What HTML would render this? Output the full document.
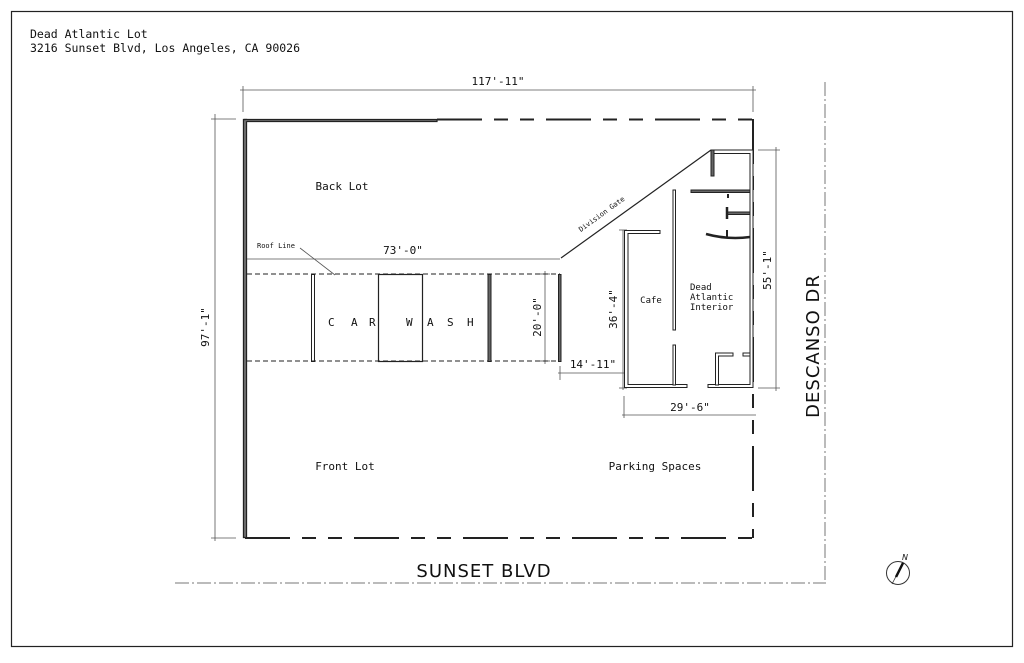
<!DOCTYPE html>
<html><head><meta charset="utf-8"><style>
html,body{margin:0;padding:0;background:#fff;}
svg{display:block;}
.m{font-family:"DejaVu Sans Mono","Liberation Mono",monospace;fill:#111;}
.s{font-family:"DejaVu Sans","Liberation Sans",sans-serif;fill:#111;}
</style></head><body>
<svg width="1024" height="663" viewBox="0 0 1024 663" xmlns="http://www.w3.org/2000/svg">
<rect x="11.5" y="11.5" width="1001" height="635" fill="#fff" stroke="#222" stroke-width="1.2"/>
<text class="m" x="30" y="38" font-size="11.5">Dead Atlantic Lot</text>
<text class="m" x="30" y="52" font-size="11.5">3216 Sunset Blvd, Los Angeles, CA 90026</text>

<!-- dims -->
<g stroke="#555" stroke-width="0.8" fill="none">
<line x1="240" y1="90" x2="756" y2="90"/>
<line x1="243" y1="86" x2="243" y2="112"/>
<line x1="753" y1="86" x2="753" y2="112"/>
<line x1="215" y1="114" x2="215" y2="541"/>
<line x1="211" y1="119" x2="236" y2="119"/>
<line x1="211" y1="538" x2="236" y2="538"/>
<line x1="243" y1="259" x2="560" y2="259"/>
<line x1="545" y1="271" x2="545" y2="364"/>
<line x1="540" y1="274" x2="550" y2="274"/>
<line x1="540" y1="361" x2="550" y2="361"/>
<line x1="558" y1="373" x2="627" y2="373"/>
<line x1="560" y1="366" x2="560" y2="380"/>
<line x1="623" y1="230" x2="623" y2="390"/>
<line x1="619" y1="230" x2="627" y2="230"/>
<line x1="619" y1="388" x2="627" y2="388"/>
<line x1="622" y1="415" x2="756" y2="415"/>
<line x1="624" y1="396" x2="624" y2="418"/>
<line x1="776" y1="147" x2="776" y2="391"/>
<line x1="758" y1="150" x2="780" y2="150"/>
<line x1="758" y1="388" x2="780" y2="388"/>
<line x1="300" y1="248" x2="335" y2="275"/>
</g>
<text class="m" x="498" y="85" font-size="11" text-anchor="middle">117'-11"</text>
<text class="m" x="0" y="0" font-size="11" text-anchor="middle" transform="translate(209,327) rotate(-90)">97'-1"</text>
<text class="m" x="403" y="254" font-size="11" text-anchor="middle">73'-0"</text>
<text class="m" x="0" y="0" font-size="11" text-anchor="middle" transform="translate(541,317) rotate(-90)">20'-0"</text>
<text class="m" x="593" y="368" font-size="11" text-anchor="middle">14'-11"</text>
<text class="m" x="0" y="0" font-size="11" text-anchor="middle" transform="translate(617,309) rotate(-90)">36'-4"</text>
<text class="m" x="690" y="411" font-size="11" text-anchor="middle">29'-6"</text>
<text class="m" x="0" y="0" font-size="11" text-anchor="middle" transform="translate(771,270) rotate(-90)">55'-1"</text>
<text class="m" x="257" y="248" font-size="7">Roof Line</text>

<!-- lot outline -->
<g fill="none" stroke="#222">
<rect x="243.5" y="119.5" width="3" height="418" stroke-width="1.3" fill="#777"/>
<path d="M244 119.5 L437 119.5 L437 121.5 L247 121.5" stroke-width="1.2" fill="#777"/>
<line x1="437" y1="119.5" x2="753" y2="119.5" stroke-width="2" stroke-dasharray="45 12 14 12 14 12"/>
<line x1="753" y1="119" x2="753" y2="538" stroke-width="2" stroke-dasharray="45 12 14 12 14 12"/>
<line x1="245" y1="538" x2="753" y2="538" stroke-width="2" stroke-dasharray="45 12 14 12 14 12"/>
<line x1="175" y1="583" x2="826" y2="583" stroke="#777" stroke-width="1" stroke-dasharray="14 3 2 3"/>
<line x1="825" y1="82" x2="825" y2="583" stroke="#777" stroke-width="1" stroke-dasharray="14 3 2 3"/>
<line x1="247" y1="274" x2="560" y2="274" stroke-width="0.9" stroke-dasharray="5 3"/>
<line x1="247" y1="361" x2="560" y2="361" stroke-width="0.9" stroke-dasharray="5 3"/>
<rect x="311.5" y="274.5" width="3" height="87" stroke-width="1"/>
<rect x="378.5" y="274.5" width="44" height="87" stroke-width="1.2"/>
<rect x="488" y="274.5" width="3" height="87" stroke-width="1" fill="#666"/>
<rect x="558.5" y="274.5" width="2.5" height="87" stroke-width="1" fill="#666"/>
<line x1="561" y1="258" x2="711" y2="150" stroke-width="1.2"/>
<!-- building walls -->
<path d="M660 230.5 L624.5 230.5 L624.5 387.5 L687 387.5 L687 384.5 L628 384.5 L628 233.5 L660 233.5 Z" stroke-width="1" fill="#fff"/>
<path d="M708 384.5 L750 384.5 L750 153.5 L711 153.5 L711 150 L753 150 L753 387.5 L708 387.5 Z" stroke-width="1" fill="#fff"/>
<rect x="711" y="150" width="3" height="26" stroke-width="1" fill="#666"/>
<rect x="673" y="190" width="2.5" height="140" stroke-width="1" fill="#fff"/>
<rect x="673" y="345" width="2.5" height="40" stroke-width="1" fill="#fff"/>
<rect x="691" y="190" width="59" height="2.5" stroke-width="1" fill="#666"/>
<rect x="727" y="212" width="23" height="2.5" stroke-width="1" fill="#666"/>
<line x1="727" y1="207" x2="727" y2="219" stroke-width="2.5"/>
<line x1="728" y1="194" x2="728" y2="198" stroke-width="2"/>
<line x1="727" y1="230" x2="727" y2="238" stroke-width="2"/>
<path d="M706 234 Q728 240 750 237" stroke-width="2.5"/>
<path d="M733 353 L715.5 353 L715.5 385 L718.5 385 L718.5 356 L733 356 Z" stroke-width="1" fill="#fff"/>
<rect x="743" y="353" width="7" height="3" stroke-width="1" fill="#fff"/>
</g>
<text class="m" x="0" y="0" font-size="7" text-anchor="middle" transform="translate(603,216) rotate(-36)">Division Gate</text>

<!-- labels -->
<text class="m" x="342" y="190" font-size="11" text-anchor="middle">Back Lot</text>
<text class="m" x="345" y="470" font-size="11" text-anchor="middle">Front Lot</text>
<text class="m" x="655" y="470" font-size="11" text-anchor="middle">Parking Spaces</text>
<text class="m" x="651" y="303" font-size="9" text-anchor="middle">Cafe</text>
<text class="m" x="690" y="290" font-size="9">Dead</text>
<text class="m" x="690" y="300" font-size="9">Atlantic</text>
<text class="m" x="690" y="310" font-size="9">Interior</text>
<g class="m" font-size="11">
<text x="328" y="326">C</text><text x="351" y="326">A</text><text x="369" y="326">R</text>
<text x="406" y="326">W</text><text x="427" y="326">A</text><text x="447" y="326">S</text><text x="467" y="326">H</text>
</g>
<text class="s" x="484" y="577" font-size="18" text-anchor="middle" letter-spacing="1">SUNSET BLVD</text>
<text class="s" x="0" y="0" font-size="18" text-anchor="middle" letter-spacing="1" transform="translate(819,346) rotate(-90)">DESCANSO DR</text>

<!-- compass -->
<circle cx="898" cy="573" r="11.5" fill="none" stroke="#333" stroke-width="1"/>
<line x1="892" y1="584" x2="903" y2="563" stroke="#333" stroke-width="0.8"/>
<line x1="896" y1="577" x2="903" y2="563" stroke="#111" stroke-width="2.5"/>
<text class="s" x="902" y="560" font-size="8" font-style="italic">N</text>
</svg>
</body></html>
